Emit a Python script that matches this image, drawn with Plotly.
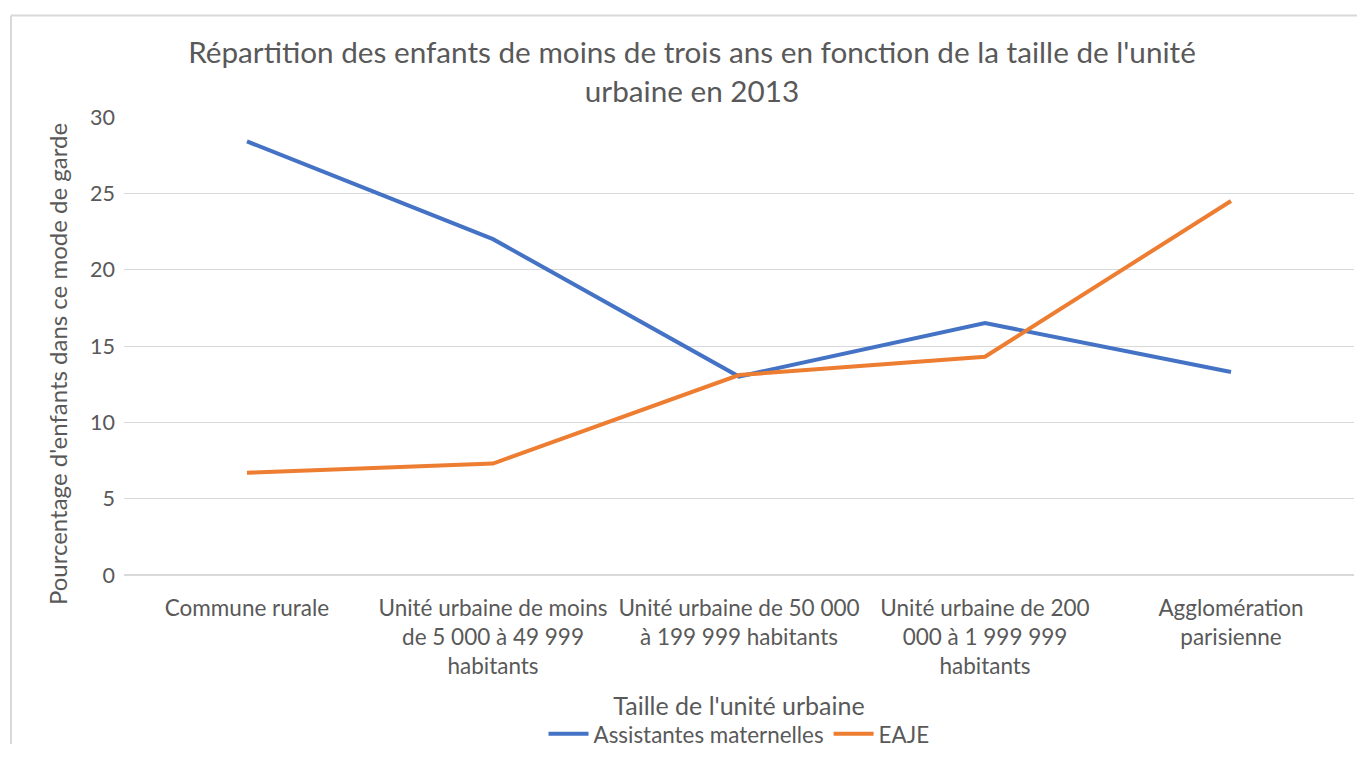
import plotly.graph_objects as go

categories = [
    "Commune rurale",
    "Unité urbaine de moins<br>de 5 000 à 49 999<br>habitants",
    "Unité urbaine de 50 000<br>à 199 999 habitants",
    "Unité urbaine de 200<br>000 à 1 999 999<br>habitants",
    "Agglomération<br>parisienne",
]
assistantes = [28.4, 22.0, 13.0, 16.5, 13.3]
eaje = [6.7, 7.3, 13.1, 14.3, 24.5]

# the page body has an 8px margin, so the figure is sized to fit inside the window
W, H = 1349, 751
L, R, T, B = 116, 3, 109, 173
pw, ph = W - L - R, H - T - B


def px(x):
    return (x - L) / pw


def py(y):
    return (H - B - y) / ph


fig = go.Figure()
fig.add_trace(go.Scatter(x=categories, y=assistantes, mode="lines",
                         name="Assistantes maternelles",
                         line=dict(color="#4472C4", width=4)))
fig.add_trace(go.Scatter(x=categories, y=eaje, mode="lines", name="EAJE",
                         line=dict(color="#ED7D31", width=4)))

font = "Lato, Calibri, sans-serif"
fig.update_layout(
    width=W, height=H,
    margin=dict(l=L, r=R, t=T, b=B),
    paper_bgcolor="white", plot_bgcolor="white",
    font=dict(family=font, color="#595959", size=21),
    title=dict(text="Répartition des enfants de moins de trois ans en fonction de la taille de l'unité<br>urbaine en 2013",
               x=px(684), xanchor="center", xref="paper", y=1 - 55 / H, yanchor="top",
               font=dict(size=29.7, color="#595959")),
    xaxis=dict(title=dict(text="Taille de l'unité urbaine", font=dict(size=25), standoff=19),
               range=[-0.5, 4.5], automargin=False, ticklabelstandoff=17,
               showgrid=False, showline=False, ticks="", tickfont=dict(size=22.5)),
    yaxis=dict(range=[0, 30], dtick=5, showgrid=True, gridcolor="#D9D9D9", gridwidth=1,
               zeroline=True, zerolinecolor="#D9D9D9", showline=False, ticks="",
               automargin=False, ticklabelstandoff=8, tickfont=dict(size=21.5)),
    legend=dict(orientation="h", x=0.5, xanchor="center", y=py(719), yanchor="top",
                font=dict(size=22.4), itemwidth=40, traceorder="normal"),
    showlegend=True,
)

fig.add_annotation(text="Pourcentage d'enfants dans ce mode de garde", textangle=-90,
                   xref="paper", yref="paper", x=px(49), y=py(362),
                   xanchor="center", yanchor="middle", showarrow=False,
                   font=dict(size=24, color="#595959"))

# chart border (top and left edges visible)
fig.add_shape(type="line", xref="paper", yref="paper", x0=px(3), x1=px(W), y0=py(5), y1=py(5),
              line=dict(color="#D9D9D9", width=2), layer="below")
fig.add_shape(type="line", xref="paper", yref="paper", x0=px(3), x1=px(3), y0=py(5), y1=py(H),
              line=dict(color="#D9D9D9", width=2), layer="below")

fig.write_html("out.html")
